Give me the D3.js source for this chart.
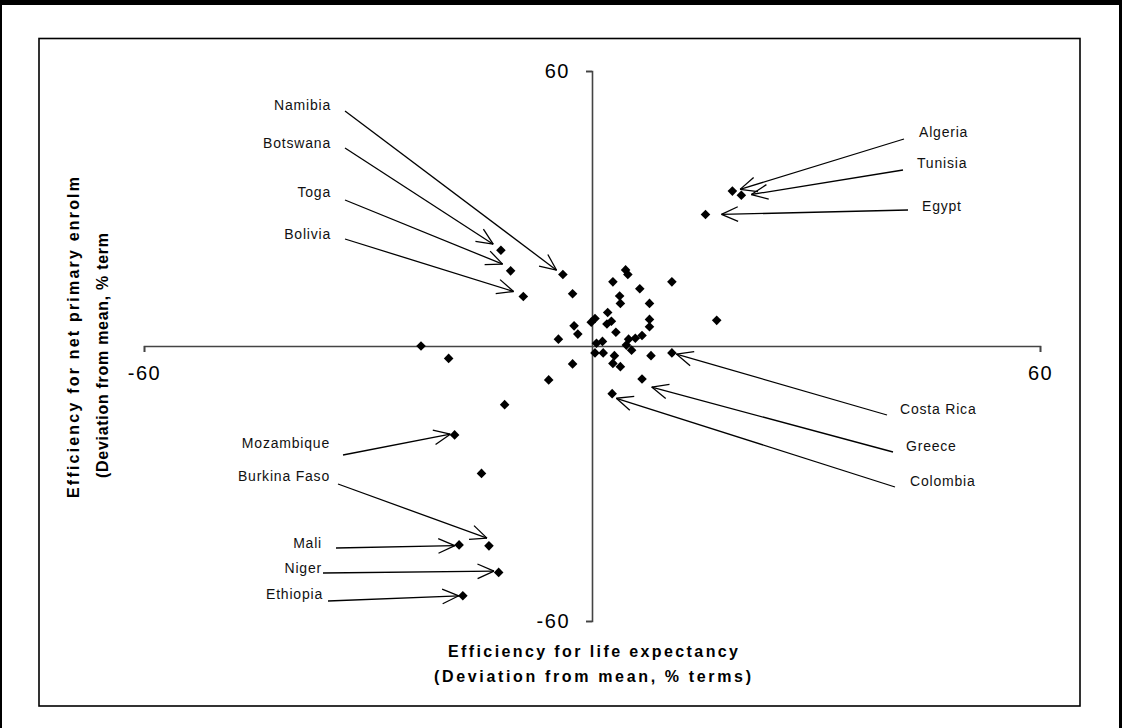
<!DOCTYPE html>
<html>
<head>
<meta charset="utf-8">
<script src="https://cdn.jsdelivr.net/npm/d3@7"></script>
<style>
  html, body { margin: 0; padding: 0; background: #fff; }
  svg { display: block; font-family: "Liberation Sans", Arial, Helvetica, sans-serif; }
</style>
</head>
<body>
<svg id="chart" width="1122" height="728"></svg>
<script>
// ---------------- DATA ----------------
const countries = [
  "Botswana","Toga","Bolivia","Namibia","","","","","","",
  "","","","","","","","","","",
  "","","","","","","","","","",
  "","","","","","","","","","Costa Rica",
  "","","","Greece","Colombia","","Mozambique","","Burkina Faso","Mali",
  "Niger","Ethiopia","Algeria","Tunisia","Egypt"
];
const lifeExpEff = [
  -12.2,-10.9,-9.2,-3.9,-2.6,2.8,4.5,4.8,6.4,10.7,
  3.7,3.8,7.7,2.1,0.4,-0.1,2.0,2.6,-2.4,-1.9,
  3.2,7.7,7.7,16.7,-4.5,-22.9,-19.2,0.6,1.4,0.4,
  1.5,4.9,5.8,6.7,4.6,5.3,3.0,2.8,3.8,10.7,
  7.9,-2.6,-5.8,6.7,2.7,-11.7,-18.4,-14.8,-13.8,-17.8,
  -12.5,-17.3,18.8,20.0,15.2
];
const enrolEff = [
  20.9,16.4,10.8,15.6,11.4,14.0,16.6,15.6,12.5,14.0,
  10.9,9.3,9.3,7.3,6.0,5.2,4.8,5.4,4.4,2.6,
  3.0,5.8,4.2,5.6,1.5,0.0,-2.7,0.6,1.0,-1.5,
  -1.5,1.5,1.7,2.3,0.2,-0.9,-2.1,-3.8,-4.5,-1.5,
  -2.1,-3.9,-7.4,-7.2,-10.4,-12.8,-19.4,-27.8,-43.6,-43.4,
  -49.4,-54.5,33.8,32.9,28.7
];
const axisTicks = [-60, 60];
const tickLabels = ["-60", "60"];
const xTitle = ["Efficiency for life expectancy", "(Deviation from mean, % terms)"];
const yTitle = ["Efficiency for net primary enrolm", "(Deviation from mean, % term"];

// ---------------- LAYOUT (annotation placement) ----------------
const annotations = [
  {name:"Namibia",      tx:331, ty:110,   anchor:"end",   sx:345, sy:111, dx:-6.3, dy:-4.3},
  {name:"Botswana",     tx:331, ty:147.5, anchor:"end",   sx:345, sy:148, dx:-7.7, dy:-6},
  {name:"Toga",         tx:331, ty:196.5, anchor:"end",   sx:345, sy:200, dx:-8,   dy:-6.7},
  {name:"Bolivia",      tx:331, ty:239,   anchor:"end",   sx:345, sy:239, dx:-9.7, dy:-5},
  {name:"Mozambique",   tx:330, ty:448,   anchor:"end",   sx:343, sy:455, dx:-4.3, dy:-0.7},
  {name:"Burkina Faso", tx:330, ty:481,   anchor:"end",   sx:338, sy:484, dx:-2,   dy:-7.7},
  {name:"Mali",         tx:322, ty:548,   anchor:"end",   sx:336, sy:548, dx:-4.3, dy:0.7},
  {name:"Niger",        tx:322, ty:573,   anchor:"end",   sx:323, sy:573, dx:-4.7, dy:-1.3},
  {name:"Ethiopia",     tx:323, ty:599,   anchor:"end",   sx:328, sy:601, dx:-4,   dy:0},
  {name:"Algeria",      tx:919, ty:136.5, anchor:"start", sx:904, sy:139, dx:7.7,  dy:-1.7},
  {name:"Tunisia",      tx:917, ty:168,   anchor:"start", sx:903, sy:170, dx:10,   dy:-0.7},
  {name:"Egypt",        tx:922, ty:210.5, anchor:"start", sx:908, sy:210, dx:16,   dy:0},
  {name:"Costa Rica",   tx:900, ty:414,   anchor:"start", sx:887, sy:415, dx:4.5,  dy:1.2},
  {name:"Greece",       tx:906, ty:450.5, anchor:"start", sx:893, sy:452, dx:9.7,  dy:8.1},
  {name:"Colombia",     tx:910, ty:486,   anchor:"start", sx:895, sy:487, dx:4.2,  dy:4.6}
];

// ---------------- CHART ----------------
const svg = d3.select("#chart");

// outer border
svg.append("rect").attr("x",0).attr("y",0).attr("width",1122).attr("height",5).attr("fill","#000");
svg.append("rect").attr("x",0).attr("y",0).attr("width",2).attr("height",728).attr("fill","#000");
svg.append("rect").attr("x",1119).attr("y",0).attr("width",3).attr("height",728).attr("fill","#000");
// inner frame
svg.append("rect").attr("x",39).attr("y",38.5).attr("width",1041).attr("height",667.5)
  .attr("fill","none").attr("stroke","#000").attr("stroke-width",1.6);

const x = d3.scaleLinear().domain([-60, 60]).range([144, 1040]);
const y = d3.scaleLinear().domain([-60, 60]).range([621, 71]);
const fmt = d => tickLabels[axisTicks.indexOf(d)];

const axisColor = "#444";
const gx = svg.append("g").attr("transform", `translate(0,${y(0)})`)
  .call(d3.axisBottom(x).tickValues(axisTicks).tickSize(6).tickPadding(14).tickFormat(fmt));
const gy = svg.append("g").attr("transform", `translate(${x(0)},0)`)
  .call(d3.axisLeft(y).tickValues(axisTicks).tickSize(6).tickPadding(16).tickFormat(fmt));
[gx, gy].forEach(g => {
  g.select(".domain").attr("stroke", axisColor).attr("stroke-width", 1.6);
  g.selectAll(".tick line").attr("stroke", axisColor).attr("stroke-width", 1.6);
  g.selectAll(".tick text").attr("fill", "#000").style("font-size", "20px")
    .style("letter-spacing", "1.5px").style("font-family", "'Liberation Sans', Arial, sans-serif");
});

// points
const pts = lifeExpEff.map((v, i) => ({x: v, y: enrolEff[i], name: countries[i]}));
svg.append("g").selectAll("path").data(pts).join("path")
  .attr("d", d3.symbol().type(d3.symbolSquare).size(46))
  .attr("transform", d => `translate(${x(d.x)},${y(d.y)}) rotate(45)`)
  .attr("fill", "#000");

// annotations
const byName = new Map(pts.filter(p => p.name).map(p => [p.name, p]));
const ga = svg.append("g");
annotations.forEach(a => {
  const p = byName.get(a.name);
  const tipX = x(p.x) + a.dx, tipY = y(p.y) + a.dy;
  ga.append("line").attr("x1", a.sx).attr("y1", a.sy).attr("x2", tipX).attr("y2", tipY)
    .attr("stroke", "#000").attr("stroke-width", 1.3);
  const ang = Math.atan2(a.sy - tipY, a.sx - tipX);
  const L = 18, h = 24 * Math.PI / 180;
  [ang - h, ang + h].forEach(t => {
    ga.append("line").attr("x1", tipX).attr("y1", tipY)
      .attr("x2", tipX + L * Math.cos(t)).attr("y2", tipY + L * Math.sin(t))
      .attr("stroke", "#000").attr("stroke-width", 1.3);
  });
  ga.append("text").attr("x", a.tx).attr("y", a.ty).attr("text-anchor", a.anchor)
    .style("font-size", "14px").style("letter-spacing", "0.8px").attr("fill", "#111")
    .text(a.name);
});

// axis titles
svg.append("text").attr("x", 593).attr("y", 656.5).attr("text-anchor", "middle")
  .attr("textLength", 290).attr("lengthAdjust", "spacing")
  .style("font-size", "16px").style("font-weight", "bold").text(xTitle[0]);
svg.append("text").attr("x", 592.5).attr("y", 681.5).attr("text-anchor", "middle")
  .attr("textLength", 317).attr("lengthAdjust", "spacing")
  .style("font-size", "16px").style("font-weight", "bold").text(xTitle[1]);

svg.append("text").attr("transform", "translate(79.3,337.5) rotate(-90)").attr("text-anchor", "middle")
  .attr("textLength", 321).attr("lengthAdjust", "spacing")
  .style("font-size", "16px").style("font-weight", "bold").text(yTitle[0]);
svg.append("text").attr("transform", "translate(107.5,355.5) rotate(-90)").attr("text-anchor", "middle")
  .attr("textLength", 245).attr("lengthAdjust", "spacing")
  .style("font-size", "16px").style("font-weight", "bold").text(yTitle[1]);
</script>
</body>
</html>
